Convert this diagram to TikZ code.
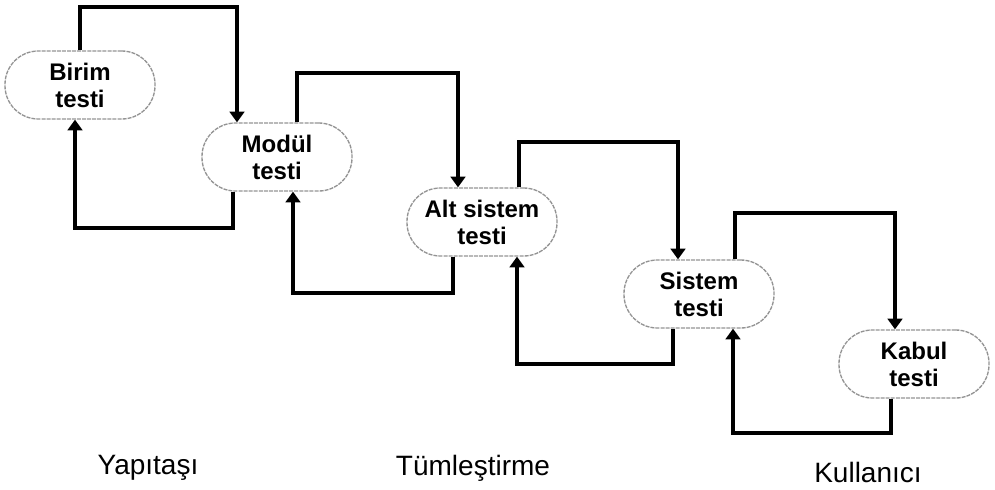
\documentclass[tikz,border=0pt]{standalone}
\usepackage{fontspec}
\setmainfont{Liberation Sans}
\usetikzlibrary{arrows.meta,calc}
\begin{document}
\begin{tikzpicture}[x=0.75pt,y=-0.75pt,
  testbox/.style={draw=gray!85, line width=1pt, dash pattern=on 3pt off 0.8pt,
    rounded corners=25pt, minimum width=112.5pt, minimum height=51pt, inner sep=0pt,
    align=center, font=\bfseries\fontsize{18}{20.25}\selectfont},
  conn/.style={line width=2.6pt, -{Triangle[width=11pt,length=8pt]}},
  phase/.style={font=\fontsize{21}{24}\selectfont, inner sep=0pt}]
\useasboundingbox (0,0) rectangle (995,489);

\node[testbox] (birim)  at (80,85)   {Birim\\testi};
\node[testbox] (modul)  at (277,157) {Modül\\testi};
\node[testbox] (alt)    at (482,222) {Alt sistem\\testi};
\node[testbox] (sistem) at (699,294) {Sistem\\testi};
\node[testbox] (kabul)  at (914,364) {Kabul\\testi};

% rails
\coordinate (t1) at (0,7);   \coordinate (t2) at (0,73);
\coordinate (t3) at (0,142); \coordinate (t4) at (0,213);
\coordinate (u1) at (0,228); \coordinate (u2) at (0,293);
\coordinate (u3) at (0,364); \coordinate (u4) at (0,433);

% ports
\coordinate (b-out) at (birim.north);
\coordinate (m-in)  at ([xshift=-30pt]modul.north);
\coordinate (m-out) at ([xshift=15pt]modul.north);
\coordinate (a-in)  at ([xshift=-18pt]alt.north);
\coordinate (a-out) at ([xshift=27.75pt]alt.north);
\coordinate (s-in)  at ([xshift=-15.75pt]sistem.north);
\coordinate (s-out) at ([xshift=27pt]sistem.north);
\coordinate (k-in)  at ([xshift=-14.25pt]kabul.north);

\coordinate (m-back) at ([xshift=-33pt]modul.south);
\coordinate (b-ret)  at ([xshift=-3.75pt]birim.south);
\coordinate (a-back) at ([xshift=-21.75pt]alt.south);
\coordinate (m-ret)  at ([xshift=12pt]modul.south);
\coordinate (s-back) at ([xshift=-19.5pt]sistem.south);
\coordinate (a-ret)  at ([xshift=26.25pt]alt.south);
\coordinate (k-back) at ([xshift=-17.25pt]kabul.south);
\coordinate (s-ret)  at ([xshift=25.5pt]sistem.south);

% forward connectors
\draw[conn] (b-out) -- (b-out |- t1) -| (m-in);
\draw[conn] (m-out) -- (m-out |- t2) -| (a-in);
\draw[conn] (a-out) -- (a-out |- t3) -| (s-in);
\draw[conn] (s-out) -- (s-out |- t4) -| (k-in);

% return connectors
\draw[conn] (m-back) -- (m-back |- u1) -| (b-ret);
\draw[conn] (a-back) -- (a-back |- u2) -| (m-ret);
\draw[conn] (s-back) -- (s-back |- u3) -| (a-ret);
\draw[conn] (k-back) -- (k-back |- u4) -| (s-ret);

% phase labels
\node[phase] (yap) at (148,468) {Yapıtaşı};
\node[phase] (tum) at (473,468) {Tümleştirme};
\node[phase] (kul) at (868,472) {Kullanıcı};
\end{tikzpicture}
\end{document}
